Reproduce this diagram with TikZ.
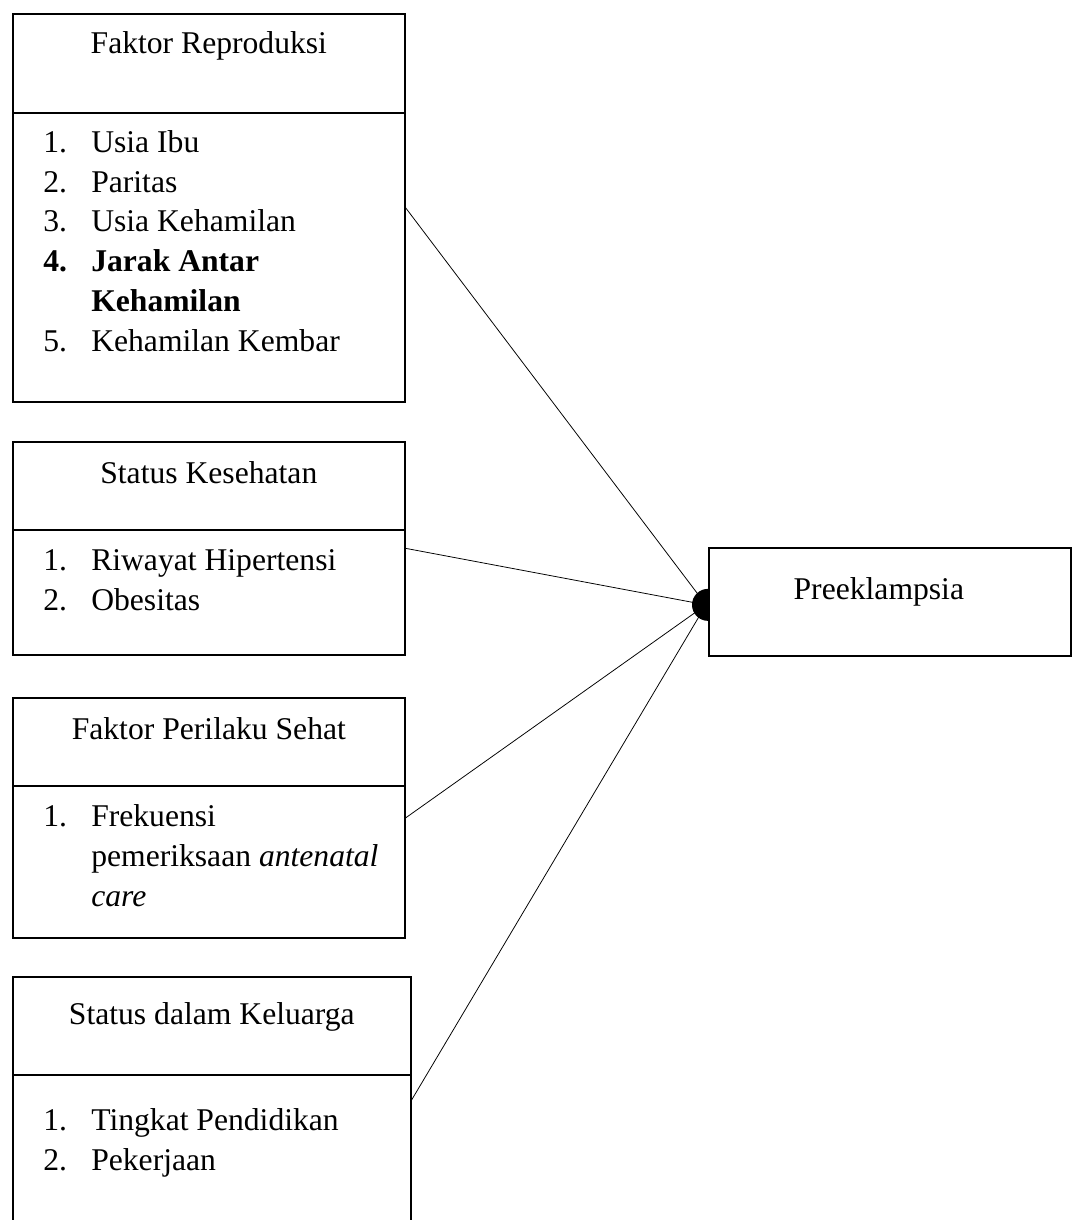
\documentclass[tikz,border=0pt]{standalone}
\usepackage{fontspec}
\setmainfont{Liberation Serif}
\usetikzlibrary{positioning}

\begin{document}
\begin{tikzpicture}[frame/.style={draw, line width=1.2pt, rectangle, anchor=north west, inner sep=0pt},
                    head/.style={anchor=base, inner sep=0pt},
                    items/.style={anchor=base west, inner sep=0pt, align=left},
                    every node/.append style={font=\fontsize{22.5}{28.45}\selectfont},
                    link/.style={line width=0.55pt}]
                        \useasboundingbox (0,0) rectangle (26.8,-30.5);
                        \node[frame, minimum width=9.8cm, minimum height=9.7cm] (rep) at (0.3,-0.325) {};
                        \node[frame, minimum width=9.8cm, minimum height=5.325cm] (kes) at (0.3,-11.025) {};
                        \node[frame, minimum width=9.8cm, minimum height=6cm] (per) at (0.3,-17.425) {};
                        \node[frame, minimum width=9.95cm, minimum height=6.15cm] (kel) at (0.3,-24.4) {};
                        \node[frame, minimum width=9.05cm, minimum height=2.7cm] (pre) at (17.7,-13.675) {};
                        \coordinate (d1) at (0.3,-2.825);
                        \coordinate (d2) at (0.3,-13.25);
                        \coordinate (d3) at (0.3,-19.65);
                        \coordinate (d4) at (0.3,-26.875);
                        \draw [line width=1.2pt] (d1) -- (d1 -| rep.east);
                        \draw [line width=1.2pt] (d2) -- (d2 -| kes.east);
                        \draw [line width=1.2pt] (d3) -- (d3 -| per.east);
                        \draw [line width=1.2pt] (d4) -- (d4 -| kel.east);
                        \node[head] (repT) at ([yshift=-1.0cm]rep.north) {Faktor Reproduksi};
                        \node[head] (kesT) at ([yshift=-1.05cm]kes.north) {Status Kesehatan};
                        \node[head] (perT) at ([yshift=-1.05cm]per.north) {Faktor Perilaku Sehat};
                        \node[head] (kelT) at ([yshift=-1.2cm]kel.north) {Status dalam Keluarga};
                        \node[items] (repL) at ([xshift=0.775cm, yshift=-0.975cm]d1) {\begin{tabular}[t]{@{}p{1.2cm}@{}l@{}}
                            1. & Usia Ibu\\
                            2. & Paritas\\
                            3. & Usia Kehamilan\\
                            \textbf{4.} & \textbf{Jarak Antar}\\
                               & \textbf{Kehamilan}\\
                            5. & Kehamilan Kembar
                        \end{tabular}};
                        \node[items] (kesL) at ([xshift=0.775cm, yshift=-1.0cm]d2) {\begin{tabular}[t]{@{}p{1.2cm}@{}l@{}}
                            1. & Riwayat Hipertensi\\
                            2. & Obesitas
                        \end{tabular}};
                        \node[items] (perL) at ([xshift=0.775cm, yshift=-1.0cm]d3) {\begin{tabular}[t]{@{}p{1.2cm}@{}l@{}}
                            1. & Frekuensi\\
                               & pemeriksaan \textit{antenatal}\\
                               & \textit{care}
                        \end{tabular}};
                        \node[items] (kelL) at ([xshift=0.775cm, yshift=-1.375cm]d4) {\begin{tabular}[t]{@{}p{1.2cm}@{}l@{}}
                            1. & Tingkat Pendidikan\\
                            2. & Pekerjaan
                        \end{tabular}};
                        \node[inner sep=0pt] (preT) at ([xshift=-0.275cm, yshift=0.25cm]pre.center) {Preeklampsia};
                        \coordinate (hub) at ([xshift=-0.05cm, yshift=-0.075cm]pre.west);
                        \draw [link] (rep.east) -- (hub);
                        \draw [link] (kes.east) -- (hub);
                        \draw [link] (per.east) -- (hub);
                        \draw [link] (kel.east) -- (hub);
                        \fill ([xshift=0.05cm]hub) ++(0,0.4) arc[start angle=90, end angle=270, radius=0.4] -- cycle;
                        \end{tikzpicture}
\end{document}
